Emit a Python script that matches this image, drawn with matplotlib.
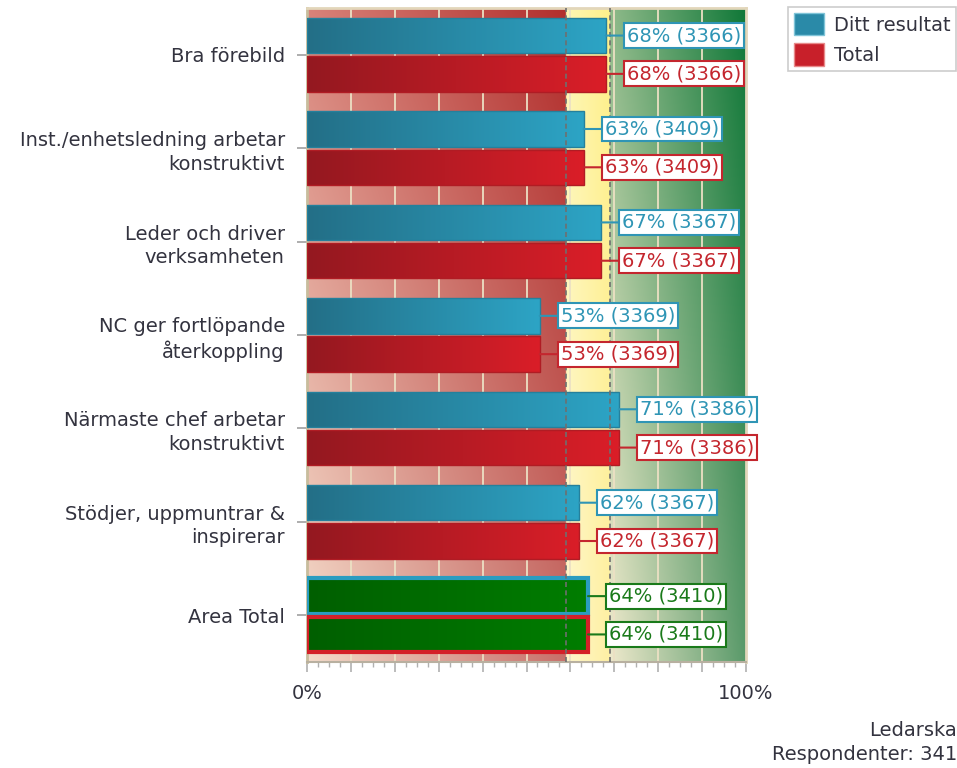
import matplotlib
matplotlib.use("Agg")
import matplotlib.pyplot as plt
import numpy as np
from matplotlib.patches import Patch
from matplotlib.ticker import MultipleLocator

# ---------------- data ----------------
categories = ["Bra förebild",
              "Inst./enhetsledning arbetar\nkonstruktivt",
              "Leder och driver\nverksamheten",
              "NC ger fortlöpande\nåterkoppling",
              "Närmaste chef arbetar\nkonstruktivt",
              "Stödjer, uppmuntrar &\ninspirerar",
              "Area Total"]
ditt_resultat = [68, 63, 67, 53, 71, 62, 64]
total = [68, 63, 67, 53, 71, 62, 64]
counts = [3366, 3409, 3367, 3369, 3386, 3367, 3410]
series_names = ["Ditt resultat", "Total"]
x_tick_labels = ["0%", "100%"]
footer_lines = ["Ledarska", "Respondenter: 341"]
zone_red_end = 59
zone_yellow_end = 69

FONT = "DejaVu Sans"
FS = 14
TXT = "#33333f"

def hx(c):
    c = c.lstrip("#")
    return np.array([int(c[i:i + 2], 16) for i in (0, 2, 4)]) / 255.0

fig = plt.figure(figsize=(9.57, 7.68), dpi=100)
ax = fig.add_axes([307 / 957, 1 - 662 / 768, 439 / 957, 654 / 768])
n = len(categories)
ax.set_xlim(0, 100)
ax.set_ylim(n - 0.5, -0.5)

# ---------------- background zones ----------------
W, H = 1000, 200
xs = np.linspace(0, 100, W)
ts = np.linspace(0, 1, H)[:, None, None]
img = np.zeros((H, W, 3))
zones = [
    (0, zone_red_end, "#d8837a", "#b22e2c", "#f4dccb", "#c8706a"),
    (zone_red_end, zone_yellow_end, "#fdf6b4", "#fff08a", "#fff6cc", "#fff0a4"),
    (zone_yellow_end, 100, "#8fba8a", "#107838", "#eee9cc", "#5a9a6a"),
]
for x0, x1, tl, tr, bl, br in zones:
    m = (xs >= x0) & (xs <= x1)
    u = ((xs[m] - x0) / (x1 - x0))[None, :, None]
    top = hx(tl) + (hx(tr) - hx(tl)) * u
    bot = hx(bl) + (hx(br) - hx(bl)) * u
    img[:, m, :] = top + (bot - top) * ts
ax.imshow(img, extent=(0, 100, n - 0.5, -0.5), aspect="auto", zorder=0,
          interpolation="bilinear")

for g in range(10, 100, 10):
    ax.axvline(g, color="#ece0c4", lw=1.3, zorder=1)
for z in (zone_red_end, zone_yellow_end):
    ax.axvline(z, color="#6f6f6f", lw=1.2, ls=(0, (3, 2)), zorder=6)

# ---------------- bars ----------------
y = np.arange(n)
off = 0.205
h = 0.38

def grad_fill(rect, c_left, c_right):
    x0, w = rect.get_x(), rect.get_width()
    y0, hh = rect.get_y(), rect.get_height()
    u = np.linspace(0, 1, 100)[None, :, None]
    g = hx(c_left) + (hx(c_right) - hx(c_left)) * u
    im = ax.imshow(g, extent=(x0, x0 + w, y0 + hh, y0), aspect="auto",
                   zorder=3, interpolation="bilinear")
    im.set_clip_path(rect)

specs = [
    (ditt_resultat, -off, ("#236f87", "#2da4c5"), "#25809c", "#2f95b5", "#2b9cc0"),
    (total, off, ("#941820", "#da1e28"), "#b01c24", "#c4262e", "#d42028"),
]
for vals, o, (cl, cr), edge, lblc, totedge in specs:
    bars = ax.barh(y + o, vals, height=h, facecolor="none", edgecolor=edge,
                   lw=1, zorder=4)
    for i, rect in enumerate(bars):
        if i == n - 1:
            rect.set_edgecolor(totedge)
            rect.set_linewidth(3)
            grad_fill(rect, "#005f00", "#007d00")
            col = "#1a7a1a"
        else:
            grad_fill(rect, cl, cr)
            col = lblc
        v = vals[i]
        ax.annotate(f"{v}% ({counts[i]})", xy=(v, y[i] + o),
                    xytext=(21, 0), textcoords="offset pixels",
                    ha="left", va="center", fontsize=FS, family=FONT,
                    color=col, zorder=8, annotation_clip=False,
                    bbox=dict(boxstyle="square,pad=0.15", fc="white",
                              ec=col, lw=1.5),
                    arrowprops=dict(arrowstyle="-", color=col, lw=1.5,
                                    shrinkA=0, shrinkB=0))

# ---------------- axes styling ----------------
ax.set_yticks(y)
ax.set_yticklabels(categories, fontsize=FS, family=FONT, color=TXT,
                   linespacing=1.3)
ax.tick_params(axis="y", length=7, color="#a0a0a0", pad=9, width=1.2)
ax.set_xticks(range(0, 101, 10))
ax.set_xticklabels([x_tick_labels[0]] + [""] * 9 + [x_tick_labels[1]],
                   fontsize=FS, family=FONT, color=TXT)
ax.xaxis.set_minor_locator(MultipleLocator(2.5))
ax.tick_params(axis="x", which="major", length=7, color="#b0b0b0", pad=9,
               width=1.2)
ax.tick_params(axis="x", which="minor", length=3.5, color="#b0b0b0",
               width=1)
for s in ("top", "right"):
    ax.spines[s].set_color("#e2d6ba")
    ax.spines[s].set_linewidth(2)
ax.spines["left"].set_color("#c8bc9c")
ax.spines["left"].set_linewidth(2)
ax.spines["bottom"].set_color("#b8b0a0")
ax.spines["bottom"].set_linewidth(1.5)

# ---------------- legend ----------------
handles = [Patch(facecolor="#2a8aa8", edgecolor="#7fc4d8", lw=1),
           Patch(facecolor="#c8202a", edgecolor="#e88a8a", lw=1)]
leg = fig.legend(handles, series_names, loc="upper left",
                 bbox_to_anchor=(788 / 957, 1 - 7 / 768), borderaxespad=0,
                 prop={"family": FONT, "size": FS}, frameon=True,
                 fancybox=False, handlelength=1.55, handleheight=1.4,
                 handletextpad=0.5, labelspacing=0.4, borderpad=0.3)
leg.get_frame().set_edgecolor("#c0c0c0")
leg.get_frame().set_linewidth(1.2)
for t in leg.get_texts():
    t.set_color(TXT)

# ---------------- footer ----------------
fig.text(1.0, 1 - 731 / 768, footer_lines[0], ha="right", va="center",
         fontsize=FS, family=FONT, color=TXT)
fig.text(1.0, 1 - 755 / 768, footer_lines[1], ha="right", va="center",
         fontsize=FS, family=FONT, color=TXT)

fig.savefig("out.png", dpi=100)
